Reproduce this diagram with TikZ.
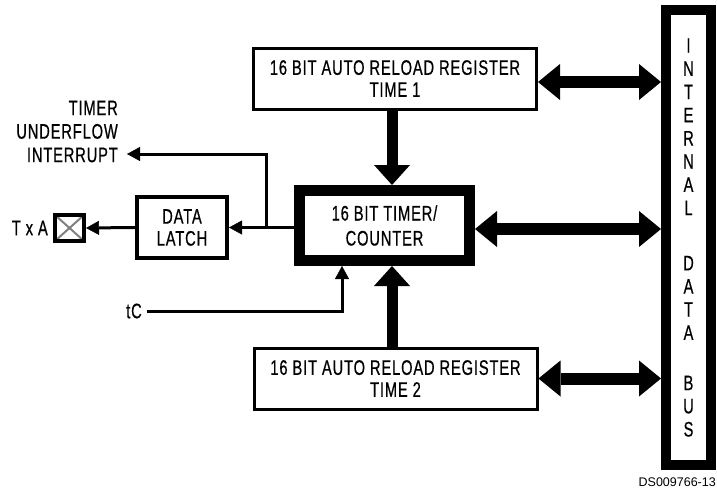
\documentclass[tikz,border=0pt]{standalone}
\usepackage{fontspec}
\setmainfont{Liberation Sans}[FakeStretch=0.7,LetterSpace=4,FakeBold=0.6]
\newfontfamily\plainsf{Liberation Sans}
\usetikzlibrary{arrows.meta, positioning}

\begin{document}
\begin{tikzpicture}[x=1pt, y=-1pt,
    font=\fontsize{21}{22}\selectfont,
    box/.style={rectangle, draw, align=center, inner sep=0pt},
    reg/.style={box, line width=3pt, minimum width=283pt, minimum height=61pt},
    timerbox/.style={box, line width=11pt, minimum width=170pt, minimum height=70pt,
                     font=\fontsize{21}{25}\selectfont},
    latchbox/.style={box, line width=4pt, minimum width=90pt, minimum height=61pt},
    busbox/.style={box, line width=10pt, minimum width=45pt, minimum height=455pt,
                   font=\fontsize{21}{23.2}\selectfont},
    pinbox/.style={rectangle, draw, line width=4pt, minimum width=29pt, minimum height=26pt,
                   inner sep=0pt,
                   path picture={\draw[gray, line width=2pt]
                     (path picture bounding box.north west) -- (path picture bounding box.south east)
                     (path picture bounding box.south west) -- (path picture bounding box.north east);}},
    lbl/.style={inner sep=0pt, align=right},
    sig/.style={line width=3pt, -{Triangle[length=13pt, width=14pt, line width=0.5pt]}},
    bigarr/.style={line width=11pt, -{Triangle[length=20pt, width=36pt, line width=0pt]}},
    dblarr/.style={line width=12pt,
                   {Triangle[length=22pt, width=36pt, line width=0pt]}-{Triangle[length=22pt, width=36pt, line width=0pt]}}
  ]
    \useasboundingbox (0,0) rectangle (717,490);

    \node[reg] (reg1) at (395,78.5) {16 BIT AUTO RELOAD REGISTER\\TIME 1};
    \node[timerbox] (timer) at (384.5,225.5) {16 BIT TIMER/\\COUNTER};
    \node[reg] (reg2) at (395.5,378.5) {16 BIT AUTO RELOAD REGISTER\\TIME 2};
    \node[busbox] (bus) at (688.5,237.5) {I\\N\\T\\E\\R\\N\\A\\L\\[32pt]D\\A\\T\\A\\[27pt]B\\U\\S};
    \node[latchbox] (latch) at (182,227.5) {DATA\\LATCH};
    \node[pinbox] (pin) at (69.5,228) {};
    \node[lbl, left=5pt of pin] (txa) {T x A};
    \node[lbl, anchor=east, font=\fontsize{21}{23.5}\selectfont] (irqtext) at (118,131.5)
      {TIMER\\UNDERFLOW\\INTERRUPT};
    \node[lbl, anchor=east] (tc) at (142,311) {tC};
    \node[anchor=base east, inner sep=0pt, font=\plainsf\fontsize{12.5}{13}\selectfont] (dsno)
      at (716,486) {DS009766-13};

    \coordinate (tap) at (266,227.5);
    \coordinate (irq) at (127,154);

    \draw[bigarr] ([xshift=-3pt]reg1.south) -- ([xshift=-3pt]reg1.south |- timer.north);
    \draw[bigarr] ([xshift=-3.5pt]reg2.north) -- ([xshift=-3.5pt]reg2.north |- timer.south);
    \draw[dblarr] ([yshift=-3.5pt]reg1.east) -- ([yshift=-3.5pt]reg1.east -| bus.west);
    \draw[dblarr] ([yshift=-3.5pt]timer.east) -- ([yshift=-3.5pt]timer.east -| bus.west);
    \draw[dblarr] (reg2.east) -- (reg2.east -| bus.west);

    \draw[sig] (timer.west |- latch.east) -- (latch.east);
    \draw[sig] (tap) |- (irq);
    \draw[sig] (latch.west) -- (pin.east);
    \draw[sig] ([xshift=5pt]tc.east) -| ([xshift=-42.5pt]timer.south);
  \end{tikzpicture}
\end{document}
